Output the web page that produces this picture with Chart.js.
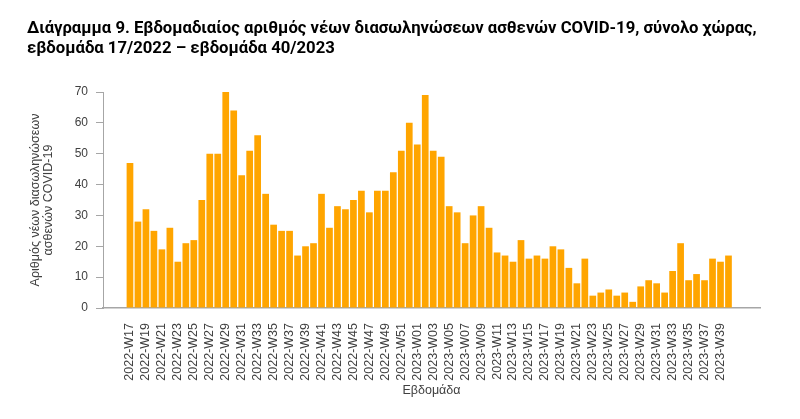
<!DOCTYPE html>
<html>
<head>
<meta charset="utf-8">
<script src="https://cdn.jsdelivr.net/npm/chart.js@4/dist/chart.umd.min.js"></script>
<style>
  html, body { margin: 0; padding: 0; background: #fff; }
  #wrap { width: 800px; height: 419px; position: relative; }
</style>
</head>
<body>
<div id="wrap"><canvas id="c"></canvas></div>
<script>
// ---- Data ----
const weeks2022 = ["2022-W17","2022-W18","2022-W19","2022-W20","2022-W21","2022-W22","2022-W23","2022-W24","2022-W25","2022-W26",
  "2022-W27","2022-W28","2022-W29","2022-W30","2022-W31","2022-W32","2022-W33","2022-W34","2022-W35","2022-W36",
  "2022-W37","2022-W38","2022-W39","2022-W40","2022-W41","2022-W42","2022-W43","2022-W44","2022-W45","2022-W46",
  "2022-W47","2022-W48","2022-W49","2022-W50","2022-W51","2022-W52"];
const weeks2023 = ["2023-W01","2023-W02","2023-W03","2023-W04","2023-W05","2023-W06","2023-W07","2023-W08","2023-W09","2023-W10",
  "2023-W11","2023-W12","2023-W13","2023-W14","2023-W15","2023-W16","2023-W17","2023-W18","2023-W19","2023-W20",
  "2023-W21","2023-W22","2023-W23","2023-W24","2023-W25","2023-W26","2023-W27","2023-W28","2023-W29","2023-W30",
  "2023-W31","2023-W32","2023-W33","2023-W34","2023-W35","2023-W36","2023-W37","2023-W38","2023-W39","2023-W40"];
const intubations2022 = [47,28,32,25,19,26,15,21,22,35, 50,50,70,64,43,51,56,37,27,25, 25,17,20,21,37,26,33,32,35,38, 31,38,38,44,51,60];
const intubations2023 = [53,69,51,49,33,31,21,30,33,26, 18,17,15,22,16,17,16,20,19,13, 8,16,4,5,6,4,5,2,7,9, 8,5,12,21,9,11,9,16,15,17];
const yTickValues = [0,10,20,30,40,50,60,70];

const chartTitle = ["Διάγραμμα 9. Εβδομαδιαίος αριθμός νέων διασωληνώσεων ασθενών COVID-19, σύνολο χώρας,",
                    "εβδομάδα 17/2022 – εβδομάδα 40/2023"];
const yTitle = ["Αριθμός νέων διασωληνώσεων", "ασθενών COVID-19"];
const xTitle = "Εβδομάδα";

// ---- Build library structures ----
const weeks = weeks2022.concat(weeks2023);
const values = intubations2022.concat(intubations2023);
const points = values.map((v, i) => ({ x: i, y: v }));

Chart.defaults.font.family = "'Liberation Sans', Arial, sans-serif";
Chart.defaults.color = "#404040";

new Chart(document.getElementById("c"), {
  type: "bar",
  data: {
    datasets: [{
      data: points,
      backgroundColor: "#FFA500",
      borderWidth: 0,
      categoryPercentage: 1.0,
      barPercentage: 0.84
    }]
  },
  options: {
    responsive: true,
    maintainAspectRatio: false,
    animation: false,
    devicePixelRatio: 1,
    layout: { padding: { left: 27, right: 40, top: 0, bottom: 0 } },
    plugins: {
      legend: { display: false },
      tooltip: { enabled: false },
      title: {
        display: true,
        text: chartTitle,
        align: "start",
        color: "#000000",
        font: { family: "Roboto", size: 16.7, weight: "bold", lineHeight: 19.7 / 16.7 },
        padding: { top: 19, bottom: 33.6 }
      }
    },
    scales: {
      x: {
        type: "linear",
        min: -3.38,
        max: 78.95,
        offset: false,
        grid: { display: false, drawTicks: false },
        border: { display: true, color: "#a6a6a6", width: 1.5 },
        afterFit: s => { s.height = 111; },
        afterBuildTicks: s => {
          s.ticks = weeks.map((w, i) => ({ value: i })).filter(t => t.value % 2 === 0);
        },
        ticks: {
          autoSkip: false,
          minRotation: 90,
          maxRotation: 90,
          padding: 15,
          color: "#404040",
          font: { size: 12.5 },
          callback: v => weeks[v]
        },
        title: {
          display: true,
          text: xTitle,
          color: "#404040",
          font: { size: 12.5, lineHeight: 1.2 },
          padding: { top: 0, bottom: 21 }
        }
      },
      y: {
        min: 0,
        max: 70,
        afterFit: s => { s.width = 76; },
        afterBuildTicks: s => { s.ticks = yTickValues.map(v => ({ value: v })); },
        grid: { display: true, drawOnChartArea: false, drawTicks: true, tickLength: 7, color: "#a6a6a6" },
        border: { display: true, color: "#a6a6a6", width: 1 },
        ticks: { padding: 8, color: "#404040", font: { size: 12 } },
        title: {
          display: true,
          text: yTitle,
          color: "#404040",
          font: { size: 12.5, lineHeight: 13 / 12.5 },
          padding: { top: 2.5, bottom: 0 }
        }
      }
    }
  }
});
</script>
</body>
</html>
